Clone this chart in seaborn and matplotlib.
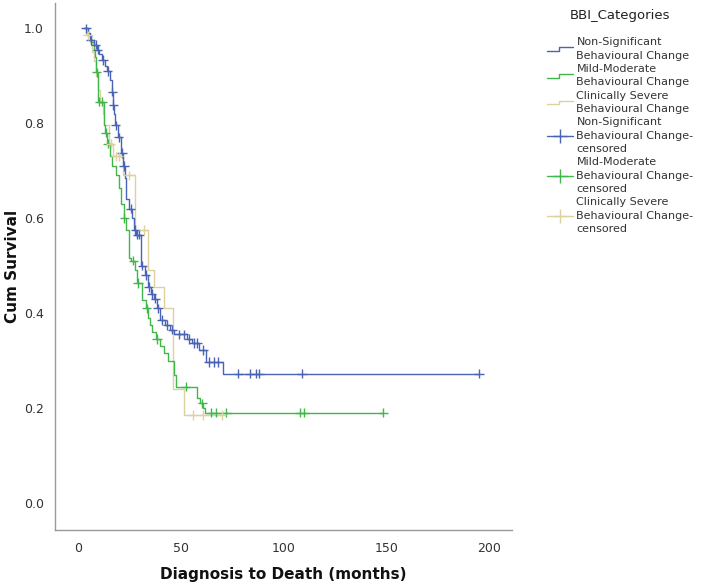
import numpy as np
import pandas as pd
import matplotlib
matplotlib.use("Agg")
import matplotlib.pyplot as plt
from matplotlib.lines import Line2D
from matplotlib.legend_handler import HandlerBase
import seaborn as sns

# ---------------- data ----------------
groups = ["Non-Significant Behavioural Change",
          "Mild-Moderate Behavioural Change",
          "Clinically Severe Behavioural Change"]

ns_time = [3, 5, 6, 8, 9.5, 10.5, 12, 13.5, 14.4, 15.5, 16.5, 17, 17.6, 18, 19.5,
           21, 22, 23, 23.5, 25, 26.5, 27.2, 28.5, 30.6, 31, 32.5, 34, 35.5, 37,
           38.5, 40, 42.5, 45, 47, 53, 55.5, 59, 62.5, 70.8]
ns_surv = [1.0, 0.99, 0.975, 0.965, 0.955, 0.945, 0.933, 0.92, 0.91, 0.89, 0.866,
           0.838, 0.82, 0.795, 0.77, 0.737, 0.71, 0.685, 0.64, 0.62, 0.60, 0.575,
           0.565, 0.53, 0.50, 0.48, 0.455, 0.44, 0.43, 0.41, 0.385, 0.375, 0.365,
           0.355, 0.345, 0.337, 0.322, 0.297, 0.272]
ns_censor = [4, 6.3, 8.7, 9.8, 12.3, 14.6, 16.8, 17.3, 18.5, 20, 21.5, 22.5, 25.7,
             28, 29, 29.8, 31.5, 33, 34.5, 36, 37.8, 39, 41, 43.5, 46, 49, 51.5,
             54, 56.5, 58, 61, 63.6, 66, 68.4, 78, 83.5, 86.4, 88.3, 109, 195]

mm_time = [3, 5, 6.5, 8, 8.5, 9, 10, 12.8, 13.5, 14.4, 15.5, 16.8, 18.4, 20, 21,
           22.4, 23.5, 24.8, 26, 28, 29, 31.4, 33, 34, 35, 36, 38, 40, 42, 44,
           46.6, 48, 58, 59.5, 61, 62]
mm_surv = [1.0, 0.985, 0.97, 0.955, 0.94, 0.907, 0.845, 0.795, 0.78, 0.757, 0.73,
           0.71, 0.69, 0.663, 0.63, 0.60, 0.575, 0.515, 0.51, 0.49, 0.463, 0.427,
           0.41, 0.39, 0.375, 0.36, 0.345, 0.33, 0.315, 0.30, 0.27, 0.245, 0.22,
           0.21, 0.20, 0.19]
mm_censor = [9.3, 10.5, 12, 13.6, 14.7, 22.6, 27, 29.3, 33.5, 38.5, 52.4, 60.5,
             65, 67, 72, 108, 110, 148.5]

cs_time = [2, 4, 6, 7, 8, 9, 10, 11, 12.5, 13, 15, 17, 22, 28, 34, 37, 42, 46.5, 51.5]
cs_surv = [1.0, 0.985, 0.97, 0.95, 0.93, 0.90, 0.87, 0.845, 0.82, 0.795, 0.757,
           0.73, 0.69, 0.575, 0.49, 0.455, 0.41, 0.24, 0.185]
cs_censor = [5, 16, 18.5, 20, 25, 32, 56, 61, 70]

legend_title = "BBI_Categories"
line_labels = ["Non-Significant\nBehavioural Change",
               "Mild-Moderate\nBehavioural Change",
               "Clinically Severe\nBehavioural Change"]
censor_labels = ["Non-Significant\nBehavioural Change-\ncensored",
                 "Mild-Moderate\nBehavioural Change-\ncensored",
                 "Clinically Severe\nBehavioural Change-\ncensored"]
x_ticks = [0, 50, 100, 150, 200]
y_ticks = [0.0, 0.2, 0.4, 0.6, 0.8, 1.0]

colors = {groups[0]: "#4a63b4", groups[1]: "#41b64b", groups[2]: "#dcd2a0"}

# ---------------- build tables ----------------
series = {groups[0]: (ns_time, ns_surv, ns_censor),
          groups[1]: (mm_time, mm_surv, mm_censor),
          groups[2]: (cs_time, cs_surv, cs_censor)}

line_rows, cens_rows = [], []
for g, (t, s, c) in series.items():
    t = np.asarray(t, float)
    s = np.asarray(s, float)
    c = np.asarray(c, float)
    end = max(t.max(), c.max())
    tt = np.append(t, end)
    ss = np.append(s, s[-1])
    for a, b in zip(tt, ss):
        line_rows.append((g, a, b))
    idx = np.searchsorted(t, c, side="right") - 1
    for a, b in zip(c, s[idx]):
        cens_rows.append((g, a, b))

lines_df = pd.DataFrame(line_rows, columns=["group", "time", "surv"])
cens_df = pd.DataFrame(cens_rows, columns=["group", "time", "surv"])

# ---------------- plot ----------------
sns.set_style("white")
plt.rcParams["font.family"] = ["DejaVu Sans"]

fig = plt.figure(figsize=(7.09, 5.84), dpi=100)
ax = fig.add_axes([55 / 709, 54 / 584, (512 - 55) / 709, (581 - 54) / 584])

draw_order = [groups[2], groups[1], groups[0]]
sns.lineplot(data=lines_df, x="time", y="surv", hue="group", hue_order=draw_order,
             palette=colors, estimator=None, sort=False, drawstyle="steps-post",
             linewidth=1.0, legend=False, ax=ax)
sns.scatterplot(data=cens_df, x="time", y="surv", hue="group", hue_order=draw_order,
                palette=colors, marker="+", s=45, linewidth=1.0, legend=False,
                ax=ax, zorder=3)

ax.set_xlim(-11, 211)
ax.set_ylim(-0.057, 1.053)
ax.set_xticks(x_ticks)
ax.set_yticks(y_ticks)
ax.set_yticklabels([f"{v:.1f}" for v in y_ticks])

for side in ["top", "right"]:
    ax.spines[side].set_visible(False)
for side in ["left", "bottom"]:
    ax.spines[side].set_color("#999999")
    ax.spines[side].set_linewidth(1.0)

ax.tick_params(axis="both", direction="out", length=6, width=1.0, color="#888888",
               labelsize=9, labelcolor="#333333", pad=2)
ax.tick_params(axis="x", pad=3)

ax.set_xlabel("Diagnosis to Death (months)", fontsize=11, fontweight="bold",
              color="#111111", labelpad=8)
ax.set_ylabel("Cum Survival", fontsize=11, fontweight="bold", color="#111111",
              labelpad=3)


class StepHandler(HandlerBase):
    def create_artists(self, legend, orig_handle, xdescent, ydescent, width,
                       height, fontsize, trans):
        x = np.array([0.0, 0.45, 0.45, 1.0]) * width - xdescent
        y = np.array([0.25, 0.25, 0.75, 0.75]) * height - ydescent
        ln = Line2D(x, y, color=orig_handle.get_color(), lw=1.0, transform=trans)
        return [ln]


line_handles = [Line2D([], [], color=colors[g], lw=1.0) for g in groups]
cens_handles = [Line2D([], [], color=colors[g], lw=1.0, marker="+", markersize=10,
                       markeredgewidth=1.0) for g in groups]
hmap = {h: StepHandler() for h in line_handles}

leg = fig.legend(line_handles + cens_handles, line_labels + censor_labels,
                 title=legend_title, handler_map=hmap, loc="upper left",
                 bbox_to_anchor=(547 / 709, 1 - 9 / 584),
                 bbox_transform=fig.transFigure, frameon=False, fontsize=8.0,
                 title_fontsize=9.5, handlelength=2.3, handletextpad=0.35,
                 labelspacing=0.3, borderpad=0, borderaxespad=0)
for txt in leg.get_texts():
    txt.set_color("#333333")
    txt.set_linespacing(1.42)
leg.get_title().set_color("#222222")
leg._legend_box.sep = 11

fig.savefig("out.png", dpi=100)
